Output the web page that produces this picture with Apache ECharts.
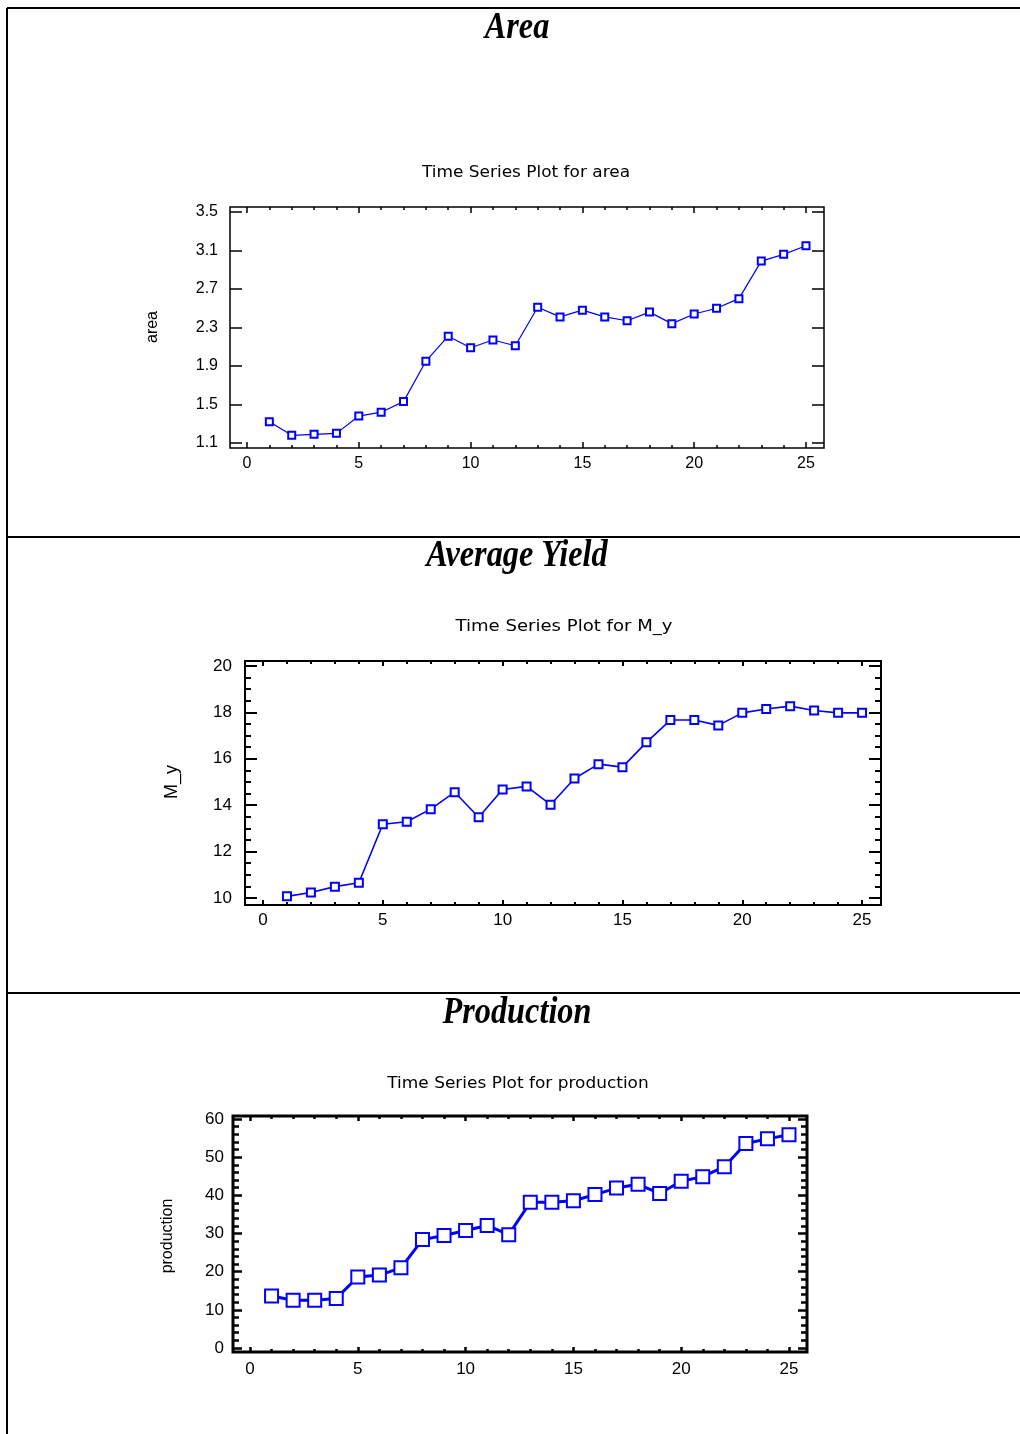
<!DOCTYPE html>
<html>
<head>
<meta charset="utf-8">
<script src="https://cdn.jsdelivr.net/npm/echarts@6/dist/echarts.min.js"></script>
<style>
  html, body { margin: 0; padding: 0; background: #fff; }
  #chart { width: 1020px; height: 1434px; }
</style>
</head>
<body>
<div id="chart"></div>
<script>
// time index (years 1..25)
const periods = [1, 2, 3, 4, 5, 6, 7, 8, 9, 10, 11, 12, 13, 14, 15, 16, 17, 18, 19, 20, 21, 22, 23, 24, 25];

// values
const area = [1.32, 1.18, 1.19, 1.20, 1.38, 1.42, 1.53, 1.95, 2.21, 2.09, 2.17, 2.11, 2.51,
  2.41, 2.48, 2.41, 2.37, 2.46, 2.34, 2.44, 2.50, 2.60, 2.99, 3.06, 3.15];
const meanYield = [10.07, 10.24, 10.49, 10.66, 13.18, 13.29, 13.83, 14.56, 13.48, 14.68, 14.81, 14.02, 15.15,
  15.77, 15.64, 16.71, 17.67, 17.67, 17.44, 17.98, 18.15, 18.27, 18.08, 17.98, 17.98];
const production = [13.6, 12.5, 12.5, 13.0, 18.6, 19.1, 21.0, 28.4, 29.5, 30.8, 32.1, 29.7, 38.2,
  38.2, 38.6, 40.2, 41.9, 42.9, 40.5, 43.7, 44.9, 47.5, 53.6, 54.8, 55.9];

// tick labels
const xMajor = [0, 5, 10, 15, 20, 25];
const xMinor = [0, 1, 2, 3, 4, 5, 6, 7, 8, 9, 10, 11, 12, 13, 14, 15, 16, 17, 18, 19, 20, 21, 22, 23, 24, 25];
const areaTicks = [1.1, 1.5, 1.9, 2.3, 2.7, 3.1, 3.5];
const yieldTicks = [10, 12, 14, 16, 18, 20];
const yieldMinor = [10, 10.5, 11, 11.5, 12, 12.5, 13, 13.5, 14, 14.5, 15, 15.5, 16, 16.5, 17, 17.5, 18, 18.5, 19, 19.5, 20];
const prodTicks = [0, 10, 20, 30, 40, 50, 60];
const prodMinor = [0, 2, 4, 6, 8, 10, 12, 14, 16, 18, 20, 22, 24, 26, 28, 30, 32, 34, 36, 38, 40, 42, 44, 46, 48, 50,
  52, 54, 56, 58, 60];

const BLUE = '#0000ff';
const SANS = '"Liberation Sans", Arial, sans-serif';

// one entry per panel
const panels = [
  {
    title: 'Area', titleY: 28, sub: 'Time Series Plot for area', subX: 526, subY: 173, subSize: 15,
    yName: 'area', nameX: 153, nameY: 327, nameSize: 16,
    grid: { left: 230, top: 207, width: 594, height: 241 }, border: 1.5,
    xMin: -0.76, xMax: 25.805, yMin: 1.048, yMax: 3.552,
    yTicks: areaTicks, yMinor: null, values: area,
    yTickLen: 12, yMinorLen: 0, xTickLen: 6, xMinorLen: 3, tickW: 1.5,
    labelSize: 16, yMargin: 12, xMargin: 8,
    lineW: 1.2, sym: 7
  },
  {
    title: 'Average Yield', titleY: 556, sub: 'Time Series Plot for M_y', subX: 564, subY: 627, subSize: 16,
    yName: 'M_y', nameX: 172, nameY: 782, nameSize: 18,
    grid: { left: 245, top: 661, width: 636, height: 244 }, border: 2,
    xMin: -0.751, xMax: 25.79, yMin: 9.698, yMax: 20.216,
    yTicks: yieldTicks, yMinor: yieldMinor, values: meanYield,
    yTickLen: 12, yMinorLen: 6, xTickLen: 5, xMinorLen: 3, tickW: 2,
    labelSize: 17, yMargin: 13, xMargin: 7,
    lineW: 1.6, sym: 8
  },
  {
    title: 'Production', titleY: 1013, sub: 'Time Series Plot for production', subX: 518, subY: 1084, subSize: 15,
    yName: 'production', nameX: 168, nameY: 1236, nameSize: 16,
    grid: { left: 233, top: 1116, width: 574, height: 236 }, border: 3,
    xMin: -0.789, xMax: 25.835, yMin: -1.048, yMax: 60.79,
    yTicks: prodTicks, yMinor: prodMinor, values: production,
    yTickLen: 9, yMinorLen: 6, xTickLen: 5, xMinorLen: 3, tickW: 2.5,
    labelSize: 17, yMargin: 9, xMargin: 9,
    lineW: 3, sym: 13
  }
];

function axis(gridIndex, position, min, max, ticks, tickLen, tickW, label) {
  return {
    type: 'value',
    gridIndex: gridIndex,
    position: position,
    min: min,
    max: max,
    offset: 0,
    axisLine: { show: false, onZero: false },
    splitLine: { show: false },
    axisTick: {
      show: !!ticks && tickLen > 0,
      inside: true,
      length: tickLen,
      customValues: ticks || [],
      lineStyle: { color: '#000', width: tickW }
    },
    axisLabel: label
      ? { show: true, customValues: ticks, margin: label.margin, color: '#000',
          fontSize: label.size, fontFamily: SANS }
      : { show: false, customValues: ticks || [] }
  };
}

const grids = [];
const xAxes = [];
const yAxes = [];
const series = [];
const graphics = [
  // page frame and section dividers
  { type: 'line', shape: { x1: 7, y1: 8, x2: 1020, y2: 8 }, style: { stroke: '#000', lineWidth: 2 } },
  { type: 'line', shape: { x1: 7, y1: 8, x2: 7, y2: 1434 }, style: { stroke: '#000', lineWidth: 2 } },
  { type: 'line', shape: { x1: 7, y1: 537, x2: 1020, y2: 537 }, style: { stroke: '#000', lineWidth: 2 } },
  { type: 'line', shape: { x1: 7, y1: 993, x2: 1020, y2: 993 }, style: { stroke: '#000', lineWidth: 2 } }
];

panels.forEach(function (p, gi) {
  const major = gi * 2;      // framed grid with labelled ticks
  const minor = gi * 2 + 1;  // same box, only the small ticks
  grids.push(Object.assign({
    show: true, borderColor: '#000', borderWidth: p.border, backgroundColor: 'transparent'
  }, p.grid));
  grids.push(Object.assign({ show: false }, p.grid));

  xAxes.push(axis(major, 'bottom', p.xMin, p.xMax, xMajor, p.xTickLen, p.tickW, { size: p.labelSize, margin: p.xMargin }));
  xAxes.push(axis(major, 'top', p.xMin, p.xMax, xMajor, p.xTickLen, p.tickW, null));
  xAxes.push(axis(minor, 'bottom', p.xMin, p.xMax, xMinor, p.xMinorLen, p.tickW, null));
  xAxes.push(axis(minor, 'top', p.xMin, p.xMax, xMinor, p.xMinorLen, p.tickW, null));

  yAxes.push(axis(major, 'left', p.yMin, p.yMax, p.yTicks, p.yTickLen, p.tickW, { size: p.labelSize, margin: p.yMargin }));
  yAxes.push(axis(major, 'right', p.yMin, p.yMax, p.yTicks, p.yTickLen, p.tickW, null));
  yAxes.push(axis(minor, 'left', p.yMin, p.yMax, p.yMinor, p.yMinorLen, p.tickW, null));
  yAxes.push(axis(minor, 'right', p.yMin, p.yMax, p.yMinor, p.yMinorLen, p.tickW, null));

  series.push({
    type: 'line',
    xAxisIndex: gi * 4,
    yAxisIndex: gi * 4,
    data: periods.map(function (t, i) { return [t, p.values[i]]; }),
    symbol: 'emptyRect',
    symbolSize: p.sym,
    lineStyle: { color: BLUE, width: p.lineW },
    itemStyle: { color: BLUE, borderColor: BLUE, borderWidth: p.lineW },
    emphasis: { disabled: true },
    z: 3
  });

  // section heading (condensed bold italic serif)
  graphics.push({
    type: 'text', x: 517, y: p.titleY, scaleX: 0.85,
    style: {
      text: p.title, x: 0, y: 0, align: 'center', verticalAlign: 'middle',
      font: 'italic bold 38px "Liberation Serif", "Times New Roman", serif', fill: '#000'
    }
  });
  // plot subtitle
  graphics.push({
    type: 'text', x: p.subX, y: p.subY, scaleX: 1.13,
    style: {
      text: p.sub, x: 0, y: 0, align: 'center', verticalAlign: 'middle',
      font: p.subSize + 'px "DejaVu Sans", sans-serif', fill: '#000'
    }
  });
  // y axis title, rotated
  graphics.push({
    type: 'text', x: p.nameX, y: p.nameY, rotation: Math.PI / 2,
    style: {
      text: p.yName, x: 0, y: 0, align: 'center', verticalAlign: 'middle',
      font: p.nameSize + 'px ' + SANS, fill: '#000'
    }
  });
});

const chart = echarts.init(document.getElementById('chart'), null, { renderer: 'canvas' });
chart.setOption({
  animation: false,
  backgroundColor: '#fff',
  grid: grids,
  xAxis: xAxes,
  yAxis: yAxes,
  series: series,
  graphic: graphics
});
</script>
</body>
</html>
